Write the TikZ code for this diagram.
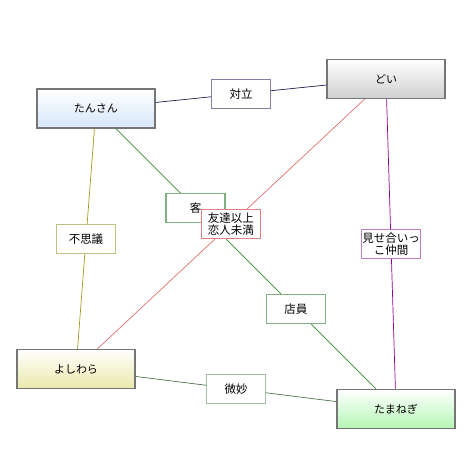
\documentclass[tikz,border=0pt]{standalone}
\usepackage{fontspec}
\setmainfont{Noto Sans CJK JP}
\definecolor{boxgray}{HTML}{767676}
\tikzset{
  person/.style={draw=boxgray, line width=1.2pt, minimum width=118pt, minimum height=39pt,
    top color=white, text=black, font=\fontsize{11}{12}\selectfont},
  tag/.style={draw, fill=white, text=black, line width=1.2pt, minimum width=59pt, minimum height=29pt,
    inner sep=1pt, align=center, font=\fontsize{11.5}{12}\selectfont},
  rel/.style={line width=0.7pt}
}
\begin{document}
\begin{tikzpicture}[x=1pt,y=-1pt]
  \useasboundingbox (0,0) rectangle (470,475);
  \node[person, bottom color={rgb,255:red,214;green,230;blue,250}] (tansan) at (96,108.5) {たんさん};
  \node[person, bottom color={rgb,255:red,208;green,208;blue,208}] (doi) at (386,79) {どい};
  \node[person, bottom color={rgb,255:red,234;green,232;blue,170}] (yoshiwara) at (76,369) {よしわら};
  \node[person, bottom color={rgb,255:red,180;green,246;blue,180}] (tamanegi) at (396,409) {たまねぎ};
  \draw[rel, color={rgb,255:red,30;green,30;blue,80}] (tansan) -- node[tag, draw={rgb,255:red,128;green,128;blue,164}] (tairitsu) {対立} (doi);
  \draw[rel, color={rgb,255:red,160;green,154;blue,30}] (tansan) -- node[tag, draw={rgb,255:red,192;green,192;blue,128}] (fushigi) {不思議} (yoshiwara);
  \draw[rel, color={rgb,255:red,50;green,140;blue,50}] (tansan)
    -- node[tag, pos=0.306, draw={rgb,255:red,128;green,176;blue,128}] (kyaku) {客}
       node[tag, pos=0.692, draw={rgb,255:red,128;green,176;blue,128}] (teiin) {店員} (tamanegi);
  \draw[rel, color={rgb,255:red,224;green,112;blue,112}] (doi) -- node[tag, draw={rgb,255:red,224;green,128;blue,128}] (tomodachi) {友達以上\\恋人未満} (yoshiwara);
  \draw[rel, color={rgb,255:red,144;green,0;blue,144}] (doi) -- node[tag, draw={rgb,255:red,192;green,128;blue,192}] (nakama) {見せ合いっ\\こ仲間} (tamanegi);
  \draw[rel, color={rgb,255:red,80;green,120;blue,80}] (yoshiwara) -- node[tag, draw={rgb,255:red,160;green,192;blue,160}] (bimyou) {微妙} (tamanegi);
\end{tikzpicture}
\end{document}
